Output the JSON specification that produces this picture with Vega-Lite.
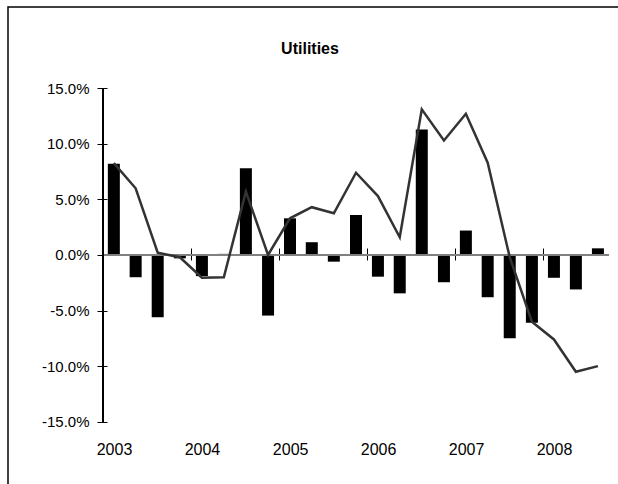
{
  "$schema": "https://vega.github.io/schema/vega-lite/v6.json",
  "width": 620,
  "height": 490,
  "autosize": {"type": "none"},
  "padding": {"left": 8, "top": 7, "right": -10, "bottom": -13},
  "background": "white",
  "title": {"text": "Utilities", "font": "Liberation Sans", "fontSize": 16, "fontWeight": "bold", "color": "black", "anchor": "middle", "frame": "group", "offset": -50, "dx": -8},
  "config": {"view": {"stroke": "black", "strokeWidth": 1.5}, "font": "Liberation Sans"},
  "data": {"values": [
    {"quarter": "2003-01-01", "quarterly": 0.082, "trend": 0.0827},
    {"quarter": "2003-04-01", "quarterly": -0.020, "trend": 0.060},
    {"quarter": "2003-07-01", "quarterly": -0.056, "trend": 0.002},
    {"quarter": "2003-10-01", "quarterly": -0.003, "trend": -0.002},
    {"quarter": "2004-01-01", "quarterly": -0.019, "trend": -0.0205},
    {"quarter": "2004-04-01", "quarterly": 0.001, "trend": -0.020},
    {"quarter": "2004-07-01", "quarterly": 0.078, "trend": 0.057},
    {"quarter": "2004-10-01", "quarterly": -0.0545, "trend": 0.000},
    {"quarter": "2005-01-01", "quarterly": 0.033, "trend": 0.033},
    {"quarter": "2005-04-01", "quarterly": 0.0115, "trend": 0.043},
    {"quarter": "2005-07-01", "quarterly": -0.006, "trend": 0.0375},
    {"quarter": "2005-10-01", "quarterly": 0.036, "trend": 0.074},
    {"quarter": "2006-01-01", "quarterly": -0.0195, "trend": 0.053},
    {"quarter": "2006-04-01", "quarterly": -0.0345, "trend": 0.016},
    {"quarter": "2006-07-01", "quarterly": 0.113, "trend": 0.131},
    {"quarter": "2006-10-01", "quarterly": -0.0245, "trend": 0.103},
    {"quarter": "2007-01-01", "quarterly": 0.022, "trend": 0.127},
    {"quarter": "2007-04-01", "quarterly": -0.038, "trend": 0.083},
    {"quarter": "2007-07-01", "quarterly": -0.075, "trend": -0.002},
    {"quarter": "2007-10-01", "quarterly": -0.061, "trend": -0.060},
    {"quarter": "2008-01-01", "quarterly": -0.0205, "trend": -0.076},
    {"quarter": "2008-04-01", "quarterly": -0.031, "trend": -0.105},
    {"quarter": "2008-07-01", "quarterly": 0.006, "trend": -0.100}
  ]},
  "layer": [
    {
      "mark": {"type": "bar", "size": 12, "color": "black"},
      "encoding": {
        "x": {
          "field": "quarter", "type": "temporal", "timeUnit": "utcyearquarter", "bandPosition": 0.5,
          "scale": {"type": "utc", "domain": [1007314272000, 1229632185600]},
          "axis": {
            "orient": "bottom", "offset": -57,
            "values": [
              {"year": 2003, "month": 1, "date": 1, "utc": true},
              {"year": 2004, "month": 1, "date": 1, "utc": true},
              {"year": 2005, "month": 1, "date": 1, "utc": true},
              {"year": 2006, "month": 1, "date": 1, "utc": true},
              {"year": 2007, "month": 1, "date": 1, "utc": true},
              {"year": 2008, "month": 1, "date": 1, "utc": true}
            ],
            "labelExpr": "utcFormat(datum.value, '%Y')", "labelOffset": 11,
            "ticks": false, "domain": false, "grid": false,
            "labelPadding": 1, "labelBaseline": "top", "labelFontSize": 16,
            "labelColor": "black", "labelFont": "Liberation Sans", "title": null
          }
        },
        "y": {
          "field": "quarterly", "type": "quantitative",
          "scale": {"domain": [-0.21772, 0.22311], "nice": false, "zero": false},
          "axis": {
            "offset": -99, "values": [-0.15, -0.1, -0.05, 0, 0.05, 0.1, 0.15],
            "labelExpr": "replace(format(datum.value, '.1%'), '\u2212', '-')",
            "domain": false, "grid": false, "tickSize": 10, "tickColor": "black",
            "labelPadding": 8, "labelFontSize": 15, "labelColor": "black",
            "labelFont": "Liberation Sans", "title": null
          }
        }
      }
    },
    {
      "mark": {"type": "rule", "color": "#808080", "strokeWidth": 1},
      "encoding": {
        "x": {"datum": {"year": 2003, "month": 1, "date": 1, "utc": true}, "type": "temporal", "axis": null},
        "x2": {"datum": {"year": 2008, "month": 10, "date": 1, "utc": true}},
        "y": {"datum": 0, "type": "quantitative"}
      }
    },
    {
      "mark": {"type": "rule", "color": "black", "strokeWidth": 1},
      "encoding": {
        "x": {"datum": {"year": 2003, "month": 1, "date": 1, "utc": true}, "type": "temporal", "axis": null},
        "y": {"datum": -0.15, "type": "quantitative"},
        "y2": {"datum": 0.15}
      }
    },
    {
      "mark": {"type": "line", "color": "#333333", "strokeWidth": 2.5},
      "encoding": {
        "x": {
          "field": "quarter", "type": "temporal", "timeUnit": "utcyearquarter", "bandPosition": 0.5,
          "axis": {
            "orient": "top", "offset": -253,
            "values": [
              {"year": 2004, "month": 1, "date": 1, "utc": true},
              {"year": 2005, "month": 1, "date": 1, "utc": true},
              {"year": 2006, "month": 1, "date": 1, "utc": true},
              {"year": 2007, "month": 1, "date": 1, "utc": true},
              {"year": 2008, "month": 1, "date": 1, "utc": true}
            ],
            "labels": false, "domain": false, "grid": false,
            "tickSize": 12, "tickColor": "black", "title": null
          }
        },
        "y": {"field": "trend", "type": "quantitative"}
      }
    }
  ],
  "resolve": {"axis": {"x": "independent"}}
}
